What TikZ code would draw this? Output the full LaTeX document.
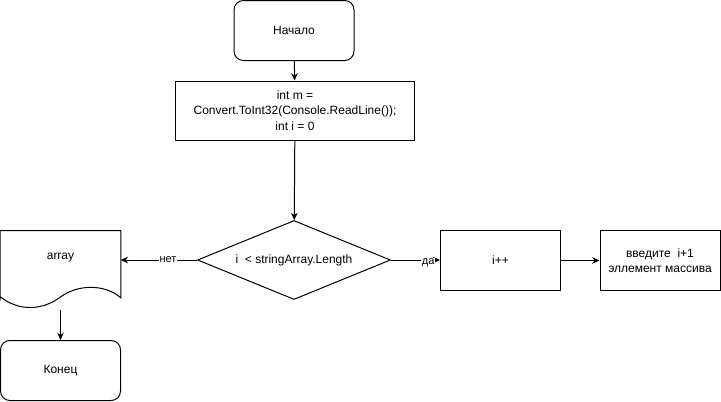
\documentclass[tikz,border=0pt]{standalone}
\usepackage{fontspec}
\setmainfont{Liberation Sans}
\usetikzlibrary{shapes.geometric,arrows.meta}
\tikzset{
  x=0.75pt, y=-0.75pt,
  base/.style={draw=black, line width=0.75pt, align=center, font=\fontsize{9pt}{11.5pt}\selectfont, inner sep=2pt},
  term/.style={base, rounded corners=7pt, minimum width=90pt, minimum height=45pt},
  proc/.style={base, minimum width=90pt, minimum height=45pt},
  dec/.style={base, diamond, aspect=2.44, inner sep=0pt, minimum width=144.75pt, minimum height=59.25pt},
  flow/.style={line width=0.75pt, -{Stealth[length=5.5pt, width=5pt]}},
  lbl/.style={fill=white, inner sep=0.5pt, font=\fontsize{8.25pt}{10pt}\selectfont}
}
\begin{document}
\begin{tikzpicture}
\useasboundingbox (0,0) rectangle (721,401);
\node[term] (start) at (294,30.5) {Начало};
\node[proc, minimum width=179.25pt, minimum height=44.25pt] (init) at (295,110.5)
  {int m =\\Convert.ToInt32(Console.ReadLine());\\int i = 0};
\node[dec] (cond) at (294,260) {i\ \ < stringArray.Length};
% document shape
\node[minimum width=90pt, minimum height=59.25pt, inner sep=0pt] (arr) at (60.5,270.5) {};
\draw[line width=0.75pt] (arr.south west) ++(0,-12) -- (arr.north west) -- (arr.north east)
  -- ++(0,67) .. controls (105,284) and (78,284) .. (60.5,297)
  .. controls (43,310) and (20,312) .. (0.5,297) -- cycle;
\node[font=\fontsize{9pt}{11pt}\selectfont] (arrtxt) at (60.5,258) {array};
\coordinate (arrbot) at (60.5,310);
\node[term] (end) at (60.5,370.5) {Конец};
\node[proc] (inc) at (500.5,260.5) {i++};
\node[proc] (msg) at (660,260.5) {введите\ \ i+1\\эллемент массива};
\draw[flow] (start) -- (init);
\draw[flow] (init) -- (cond);
\draw[flow] (cond.west) -- node[lbl, pos=0.38]{нет} (cond.west -| arr.east);
\draw[flow] (cond.east) -- node[lbl, pos=0.76, yshift=-2pt]{да} (cond.east -| inc.west);
\draw[flow] (inc) -- (msg);
\draw[flow] (arrbot) -- (end);
\end{tikzpicture}
\end{document}
